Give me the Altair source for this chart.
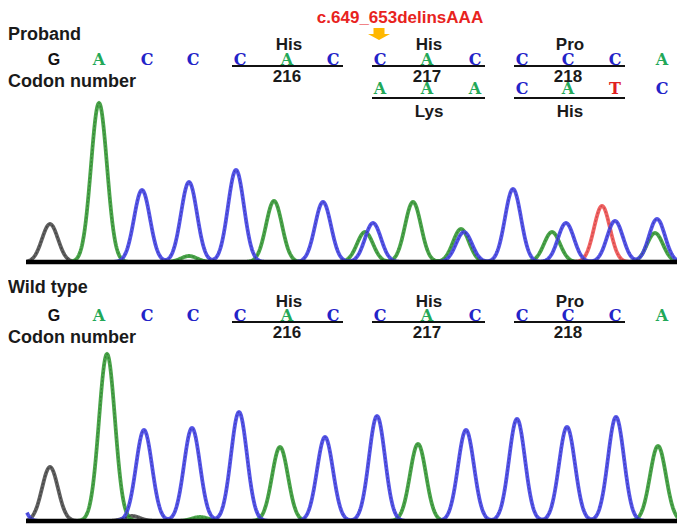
import altair as alt
import numpy as np
import pandas as pd

# ---------------- base calls / annotation ----------------
ref_bases = ["G", "A", "C", "C", "C", "A", "C", "C", "A", "C", "C", "C", "C", "A"]
alt_bases = ["A", "A", "A", "C", "A", "T", "C"]          # second allele, bases 8..14
alt_first = 7
base_pos = [54, 99, 147, 193, 240, 287, 333, 380, 427, 475, 522, 568, 615, 662]

codon_first_base = [4, 7, 10]
codon_numbers = ["216", "217", "218"]
ref_aa = ["His", "His", "Pro"]
alt_aa = ["Lys", "His"]
alt_aa_first_codon = 1
mutation_label = "c.649_653delinsAAA"
mutation_base = 7

# ---------------- trace peaks (scan position, intensity) ----------------
pro_base = ["G", "A", "C", "C", "A", "C", "A", "C", "A", "C", "A", "A", "C",
            "C", "A", "C", "T", "C", "A", "C", "A"]
pro_pos = [50, 99, 142, 189, 189, 236, 274, 323, 365, 373, 413, 461, 464,
           513, 552, 566, 602, 615, 655, 657, 700]
pro_height = [38, 159, 72, 80, 6, 92, 61, 60, 30, 39, 60, 33, 30,
              73, 30, 39, 56, 41, 29, 43, 35]

wt_base = ["C", "G", "A", "G", "C", "A", "C", "C", "A", "C", "C", "A", "C",
           "C", "C", "C", "A"]
wt_pos = [10, 50, 107, 132, 144, 200, 192, 239, 280, 325, 377, 418, 466,
          517, 567, 616, 658]
wt_height = [80, 54, 167, 5, 91, 4, 93, 109, 74, 84, 105, 77, 91,
             102, 94, 104, 75]

# ---------------- styling / layout ----------------
W, H = 669, 518
PEAK_SD = 8.0
TRACE_X0, TRACE_X1 = 27, 683
line_col = {"A": "#3f9f3f", "C": "#4b4be6", "G": "#575757", "T": "#f05a5a"}
core_col = {"A": "#2a6a2a", "C": "#2b2b95", "G": "#252525", "T": "#a83535"}
txt_col = {"A": "#22a858", "C": "#2323c8", "G": "#111111", "T": "#e02020"}
TOP = dict(title=40, aa=50, seq=65, line=66, num=82, label=87, seq2=94, line2=98,
           aa2=117, base=262)
BOT = dict(title=293, aa=307, seq=321, line=322, num=338, label=343, base=521)
LEFT = 8

xs = alt.Scale(domain=[8, 8 + W])
ys = alt.Scale(domain=[8 + H, 8])
X = lambda f="x": alt.X(f + ":Q", scale=xs, axis=None)
Y = lambda f="y": alt.Y(f + ":Q", scale=ys, axis=None)

# ---------------- traces ----------------
grid = np.arange(TRACE_X0, TRACE_X1 + 0.01, 0.5)
rows = []
for panel, bases, pos, hts, lay in [("pro", pro_base, pro_pos, pro_height, TOP),
                                    ("wt", wt_base, wt_pos, wt_height, BOT)]:
    for ch in ["G", "A", "T", "C"]:
        sig = np.zeros_like(grid)
        found = False
        for b, p, h in zip(bases, pos, hts):
            if b == ch:
                found = True
                sig = sig + h * np.exp(-((grid - p) ** 2) / (2 * PEAK_SD ** 2))
        if not found:
            continue
        for gx, s in zip(grid, sig):
            rows.append({"x": gx, "y": lay["base"] - s, "key": panel + ch,
                         "col": line_col[ch], "core": core_col[ch]})
trace = pd.DataFrame(rows)

trace_main = alt.Chart(trace).mark_line(strokeWidth=3.8, opacity=0.95).encode(
    x=X(), y=Y(), detail="key:N", color=alt.Color("col:N", scale=None))
trace_core = alt.Chart(trace).mark_line(strokeWidth=1.1, opacity=0.55,
                                        strokeDash=[2, 2]).encode(
    x=X(), y=Y(), detail="key:N", color=alt.Color("core:N", scale=None))

baseline = alt.Chart(pd.DataFrame({"x": [TRACE_X0 - 1] * 2, "x2": [TRACE_X1] * 2,
                                   "y": [TOP["base"], BOT["base"]]})).mark_rule(
    strokeWidth=4.5, color="#000000").encode(x=X(), x2="x2:Q", y=Y())

# ---------------- sequence letters ----------------
seq_rows = []
for lay in (TOP, BOT):
    for i, b in enumerate(ref_bases):
        seq_rows.append({"x": base_pos[i], "y": lay["seq"], "t": b, "col": txt_col[b]})
for j, b in enumerate(alt_bases):
    seq_rows.append({"x": base_pos[alt_first + j], "y": TOP["seq2"], "t": b,
                     "col": txt_col[b]})
seq = pd.DataFrame(seq_rows)

mono = alt.Chart(seq[seq.t != "G"]).mark_text(
    font="DejaVu Serif", fontSize=16, fontWeight="bold", baseline="alphabetic").encode(
    x=X(), y=Y(), text="t:N", color=alt.Color("col:N", scale=None))
gtxt = alt.Chart(seq[seq.t == "G"]).mark_text(
    font="Liberation Sans", fontSize=16, fontWeight="bold", baseline="alphabetic").encode(
    x=X(), y=Y(), text="t:N", color=alt.Color("col:N", scale=None))

# ---------------- codon lines, numbers, amino acids ----------------
cl, lab = [], []
for lay in (TOP, BOT):
    for k, s in enumerate(codon_first_base):
        cl.append({"x": base_pos[s] - 8, "x2": base_pos[s + 2] + 10, "y": lay["line"]})
        lab.append({"x": base_pos[s + 1], "y": lay["num"], "t": codon_numbers[k]})
        lab.append({"x": base_pos[s + 1] + 2, "y": lay["aa"], "t": ref_aa[k]})
for k, aa in enumerate(alt_aa):
    s = codon_first_base[alt_aa_first_codon + k]
    cl.append({"x": base_pos[s] - 8, "x2": base_pos[s + 2] + 10, "y": TOP["line2"]})
    lab.append({"x": base_pos[s + 1] + 2, "y": TOP["aa2"], "t": aa})

codon_lines = alt.Chart(pd.DataFrame(cl)).mark_rule(strokeWidth=2, color="#111111").encode(
    x=X(), x2="x2:Q", y=Y())
codon_text = alt.Chart(pd.DataFrame(lab)).mark_text(
    font="Liberation Sans", fontSize=17, fontWeight="bold", baseline="alphabetic",
    color="#1a1a1a").encode(x=X(), y=Y(), text="t:N")

# ---------------- left titles ----------------
titles = pd.DataFrame({"x": [LEFT] * 4,
                       "y": [TOP["title"], TOP["label"], BOT["title"], BOT["label"]],
                       "t": ["Proband", "Codon number", "Wild type", "Codon number"]})
title_text = alt.Chart(titles).mark_text(
    font="Liberation Sans", fontSize=18, fontWeight="bold", align="left",
    baseline="alphabetic", color="#1a1a1a").encode(x=X(), y=Y(), text="t:N")

# ---------------- mutation annotation ----------------
mut = pd.DataFrame({"x": [base_pos[mutation_base] + 20], "y": [23], "t": [mutation_label]})
mut_text = alt.Chart(mut).mark_text(
    font="Liberation Sans", fontSize=17, fontWeight="bold", baseline="alphabetic",
    color="#e8231e").encode(x=X(), y=Y(), text="t:N")
arrow = alt.Chart(pd.DataFrame({"x": [base_pos[mutation_base] - 1], "y": [34]})).mark_point(
    shape="M-0.5,-0.55 L0.5,-0.55 L0.5,0 L1,0 L0,0.55 L-1,0 L-0.5,0 Z",
    filled=True, size=484, color="#ffb800", opacity=1, strokeWidth=0).encode(x=X(), y=Y())

chart = alt.layer(trace_main, trace_core, baseline, codon_lines, mono, gtxt, codon_text,
                  title_text, mut_text, arrow).properties(
    width=W, height=H, padding=0, autosize=alt.AutoSizeParams(type="none")
).configure_view(stroke=None)

chart.save("out.html", embed_options={"renderer": "svg", "actions": False})
